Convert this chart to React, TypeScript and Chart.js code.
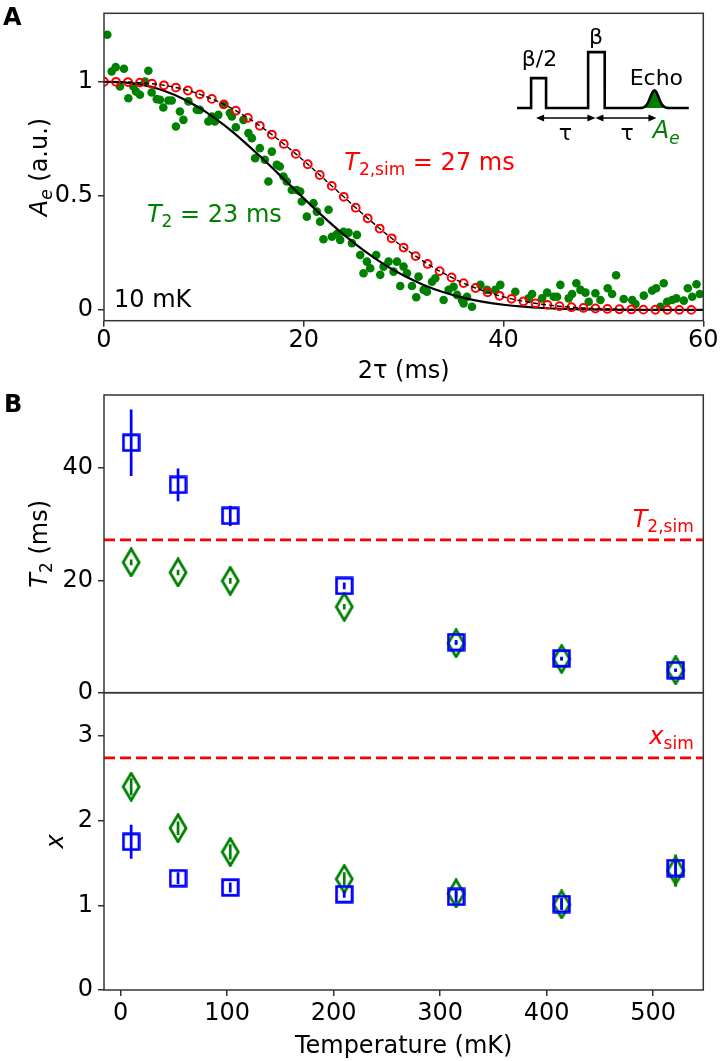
import React, { useEffect, useRef } from 'react';
import { Chart, registerables } from 'chart.js';

Chart.register(...registerables);

const FONT = "'DejaVu Sans', 'Noto Sans', sans-serif";
const GREEN = '#008000';
const RED = '#ff0000';
const BLUE = '#0000ff';
const SPINE = '#333333';

// ---------------- Panel A : echo decay at 10 mK ----------------
const A_X_TICKS = [0, 20, 40, 60];
const A_Y_TICKS = [0, 0.5, 1];

// measured echo amplitude (green dots)
const ECHO_T = [
  0.33, 0.77, 1.17, 2.0, 1.6, 2.44, 2.94, 3.6, 3.2, 4.44, 4.1, 4.77, 5.28, 5.94, 5.6, 6.45, 6.78, 7.6, 7.95, 7.2,
  8.45, 9.29, 9.6, 10.45, 11.1, 10.8, 11.45, 11.96, 12.6, 12.8, 13.2, 13.96, 14.46, 14.8, 15.13, 15.6, 16.1, 16.8,
  16.46, 17.3, 17.6, 17.97, 18.3, 18.8, 19.3, 19.8, 19.64,
  20.31, 20.97, 21.31, 21.64, 22.48, 21.97, 22.82, 23.32, 23.65, 23.98, 24.48, 24.82, 25.32, 25.65, 26.32, 26.65,
  25.98, 27.25, 27.66, 27.99, 28.49, 28.99, 29.33, 29.99, 30.33, 29.66, 30.83, 31.49, 31.26, 32.0, 32.33, 32.84,
  33.17, 34.0, 34.5, 35.0, 35.34, 35.84, 36.0, 36.34, 36.84, 37.68, 38.35, 39.18, 39.68,
  41.18, 42.86, 42.51, 43.86, 44.36, 45.02, 45.36, 45.69, 46.52, 46.86, 47.29, 47.7, 48.2, 48.53, 49.2, 49.7,
  50.43, 50.87, 51.27, 52.03, 52.88, 53.21, 54.04, 54.88, 55.28, 56.04, 55.71, 56.38, 56.88, 57.31, 58.05, 58.45,
  58.89, 59.32, 59.65,
];
const ECHO_A = [
  1.206, 1.045, 1.064, 1.057, 0.979, 0.928, 0.979, 0.943, 0.957, 1.048, 1.001, 0.953, 0.924, 0.887, 0.921, 0.918,
  0.918, 0.87, 0.833, 0.804, 0.914, 0.877, 0.877, 0.826, 0.826, 0.848, 0.855, 0.899, 0.863, 0.848, 0.801, 0.833,
  0.775, 0.753, 0.665, 0.709, 0.658, 0.694, 0.563, 0.636, 0.629, 0.585, 0.563, 0.526, 0.526, 0.475, 0.519,
  0.409, 0.468, 0.431, 0.387, 0.439, 0.31, 0.321, 0.333, 0.307, 0.343, 0.339, 0.293, 0.329, 0.241, 0.212, 0.183,
  0.161, 0.241, 0.154, 0.19, 0.212, 0.168, 0.212, 0.19, 0.161, 0.105, 0.105, 0.146, 0.056, 0.088, 0.08, 0.124,
  0.139, 0.044, 0.088, 0.102, 0.066, 0.044, 0.029, 0.058, 0.014, 0.11, 0.088, 0.088, 0.11,
  0.08, 0.07, 0.051, 0.051, 0.076, 0.058, 0.058, 0.11, 0.051, 0.07, 0.117, 0.088, 0.076, 0.036, 0.073, 0.044,
  0.095, 0.07, 0.152, 0.048, 0.044, 0.026, 0.063, 0.085, 0.095, 0.117, 0.014, 0.036, 0.044, 0.051, 0.041, 0.095,
  0.058, 0.113, 0.07,
];

// fitted curve (black solid line), T2 = 23 ms
const FIT_T = [0, 2, 4, 6, 8, 10, 12, 14, 16, 18, 20, 22, 24, 26, 28, 30, 32, 34, 36, 38, 40, 42, 44, 46, 48, 50, 52, 54, 56, 58, 60];
const FIT_A = [
  1, 0.9972, 0.9851, 0.961, 0.9238, 0.8733, 0.8107, 0.738, 0.658, 0.5739, 0.4891, 0.4071, 0.3304, 0.2613, 0.2012,
  0.1508, 0.1098, 0.0777, 0.0533, 0.0356, 0.023, 0.0144, 0.0087, 0.0051, 0.0029, 0.0016, 0.0008, 0.0004, 0.0002,
  0.0001, 0,
];

// simulation (red open circles + black dashed line), T2,sim = 27 ms
const SIM_T = [
  0, 1.2, 2.4, 3.6, 4.8, 6.0, 7.2, 8.4, 9.6, 10.8, 12.0, 13.2, 14.4, 15.6, 16.8, 18.0, 19.2, 20.4, 21.6, 22.8,
  24.0, 25.2, 26.4, 27.6, 28.8, 30.0, 31.2, 32.4, 33.6, 34.8, 36.0, 37.2, 38.4, 39.6, 40.8, 42.0, 43.2, 44.4, 45.6,
  46.8, 48.0, 49.2, 50.4, 51.6, 52.8, 54.0, 55.2, 56.4, 57.6, 58.8,
];
const SIM_A = [
  1.0, 0.9998, 0.9988, 0.9962, 0.9916, 0.9846, 0.9747, 0.9617, 0.9451, 0.9249, 0.901, 0.8732, 0.8418, 0.8069,
  0.7687, 0.7275, 0.684, 0.6385, 0.5915, 0.5437, 0.4958, 0.4483, 0.4017, 0.3569, 0.314, 0.2736, 0.2361, 0.2016,
  0.1703, 0.1424, 0.1177, 0.0962, 0.0776, 0.062, 0.0488, 0.038, 0.0292, 0.0222, 0.0166, 0.0122, 0.0089, 0.0064,
  0.0045, 0.0032, 0.0022, 0.0015, 0.001, 0.0007, 0.0005, 0.0003,
];

// ---------------- Panel B : temperature dependence ----------------
const B_X_TICKS = [0, 100, 200, 300, 400, 500];
const B1_Y_TICKS = [0, 20, 40];
const B2_Y_TICKS = [0, 1, 2, 3];

const TEMPS = [10, 54, 103, 210, 315, 414, 521];
const T2_BLUE = [44.5, 37.0, 31.5, 19.0, 9.0, 6.1, 4.0];
const T2_BLUE_ERR = [5.9, 2.9, 1.8, 0.6, 0.4, 0.3, 0.3];
const T2_GREEN = [23.2, 21.4, 19.9, 15.3, 8.8, 6.0, 4.0];
const T2_GREEN_ERR = [0.5, 0.5, 0.5, 0.5, 0.3, 0.3, 0.2];
const T2_SIM = 27.2;

const X_BLUE = [1.75, 1.32, 1.21, 1.13, 1.1, 1.015, 1.44];
const X_BLUE_ERR = [0.2, 0.07, 0.06, 0.04, 0.07, 0.07, 0.09];
const X_GREEN = [2.4, 1.91, 1.63, 1.31, 1.14, 1.01, 1.41];
const X_GREEN_ERR = [0.1, 0.08, 0.09, 0.08, 0.05, 0.05, 0.19];
const X_SIM = 2.74;

// ---------------- helpers ----------------
type Part = { t: string; it?: boolean; sub?: boolean };

function drawRich(
  ctx: CanvasRenderingContext2D,
  parts: Part[],
  x: number,
  y: number,
  size: number,
  color: string,
  align: 'left' | 'center' | 'right',
  rotate = false
) {
  const subSize = Math.round(size * 0.7);
  const fontOf = (p: Part) => `${p.it ? 'italic ' : ''}${p.sub ? subSize : size}px ${FONT}`;
  let w = 0;
  for (const p of parts) {
    ctx.font = fontOf(p);
    w += ctx.measureText(p.t).width;
  }
  ctx.save();
  ctx.translate(x, y);
  if (rotate) ctx.rotate(-Math.PI / 2);
  ctx.fillStyle = color;
  ctx.textBaseline = 'alphabetic';
  ctx.textAlign = 'left';
  let cx = align === 'left' ? 0 : align === 'center' ? -w / 2 : -w;
  for (const p of parts) {
    ctx.font = fontOf(p);
    ctx.fillText(p.t, cx, p.sub ? size * 0.22 : 0);
    cx += ctx.measureText(p.t).width;
  }
  ctx.restore();
}

function drawFrame(chart: any) {
  const { ctx, chartArea: a } = chart;
  ctx.save();
  ctx.strokeStyle = SPINE;
  ctx.lineWidth = 1.5;
  ctx.strokeRect(a.left, a.top, a.right - a.left, a.bottom - a.top);
  ctx.restore();
}

function axis(min: number, max: number, ticks: number[], horizontal: boolean, fit: number, show: boolean, pad: number) {
  return {
    type: 'linear',
    min,
    max,
    afterBuildTicks: (s: any) => {
      s.ticks = ticks.map((v) => ({ value: v }));
    },
    afterFit: (s: any) => {
      if (horizontal) {
        s.height = fit;
        s.paddingLeft = 0;
        s.paddingRight = 0;
      } else {
        s.width = fit;
        s.paddingTop = 0;
        s.paddingBottom = 0;
      }
    },
    ticks: {
      display: show,
      autoSkip: false,
      maxRotation: 0,
      padding: pad,
      color: '#000',
      font: { family: FONT, size: 24 },
      callback: (v: any) => String(v),
    },
    grid: { display: show, drawOnChartArea: false, drawTicks: true, tickLength: 6, color: SPINE, lineWidth: 1.5 },
    border: { display: false },
  };
}

function commonOptions(padTop: number, x: any, y: any) {
  return {
    responsive: false,
    animation: false,
    devicePixelRatio: 1,
    events: [],
    layout: { padding: { top: padTop, right: 16.7, left: 0, bottom: 0 } },
    plugins: { legend: { display: false }, tooltip: { enabled: false } },
    scales: { x, y },
  };
}

function makeSquare(): HTMLCanvasElement {
  const c = document.createElement('canvas');
  c.width = 19;
  c.height = 19;
  const g = c.getContext('2d')!;
  g.strokeStyle = BLUE;
  g.lineWidth = 2.8;
  g.strokeRect(1.7, 1.7, 15.6, 15.6);
  return c;
}

function makeDiamond(): HTMLCanvasElement {
  const c = document.createElement('canvas');
  c.width = 20;
  c.height = 30;
  const g = c.getContext('2d')!;
  g.strokeStyle = GREEN;
  g.lineWidth = 2.8;
  g.lineJoin = 'miter';
  g.beginPath();
  g.moveTo(10, 1.5);
  g.lineTo(18, 15);
  g.lineTo(10, 28.5);
  g.lineTo(2, 15);
  g.closePath();
  g.stroke();
  return c;
}

const pts = (xs: number[], ys: number[]) => xs.map((x, i) => ({ x, y: ys[i] }));
const errPts = (xs: number[], ys: number[], es: number[]) =>
  xs.flatMap((x, i) => [
    { x, y: ys[i] - es[i] },
    { x, y: ys[i] + es[i] },
    { x, y: null as any },
  ]);

// ---------------- Chart configs ----------------
function configA() {
  const plugin = {
    id: 'extraA',
    afterDraw(chart: any) {
      const { ctx, chartArea: a } = chart;
      const xs = chart.scales.x;
      const ys = chart.scales.y;
      const X = (v: number) => xs.getPixelForValue(v);
      const Y = (v: number) => ys.getPixelForValue(v);
      drawFrame(chart);

      // panel letter
      ctx.save();
      ctx.font = `bold 24px ${FONT}`;
      ctx.fillStyle = '#000';
      ctx.textAlign = 'left';
      ctx.textBaseline = 'alphabetic';
      ctx.fillText('A', 3, 25);
      ctx.restore();

      // axis titles
      drawRich(ctx, [{ t: 'A', it: true }, { t: 'e', it: true, sub: true }, { t: ' (a.u.)' }], 47, (a.top + a.bottom) / 2, 24, '#000', 'center', true);
      drawRich(ctx, [{ t: '2τ (ms)' }], (a.left + a.right) / 2, a.bottom + 57, 24, '#000', 'center');

      // annotations
      drawRich(ctx, [{ t: 'T', it: true }, { t: '2,sim', sub: true }, { t: ' = 27 ms' }], X(24.05), Y(0.614), 24, RED, 'left');
      drawRich(ctx, [{ t: 'T', it: true }, { t: '2', sub: true }, { t: ' = 23 ms' }], X(4.3), Y(0.387), 24, GREEN, 'left');
      drawRich(ctx, [{ t: '10 mK' }], X(1.0), Y(0.0145), 24, '#000', 'left');

      // inset: pulse sequence schematic
      const base = 0.885;
      const c = 55.11;
      const s = 0.42;
      const h = 0.077;
      ctx.save();
      ctx.beginPath();
      ctx.moveTo(X(c - 1.6), Y(base));
      for (let i = 0; i <= 40; i++) {
        const t = c - 1.6 + i * 0.08;
        ctx.lineTo(X(t), Y(base + h * Math.exp(-((t - c) * (t - c)) / (2 * s * s))));
      }
      ctx.closePath();
      ctx.fillStyle = GREEN;
      ctx.fill();

      ctx.beginPath();
      ctx.moveTo(X(41.35), Y(base));
      ctx.lineTo(X(42.76), Y(base));
      ctx.lineTo(X(42.76), Y(1.016));
      ctx.lineTo(X(44.26), Y(1.016));
      ctx.lineTo(X(44.26), Y(base));
      ctx.lineTo(X(48.47), Y(base));
      ctx.lineTo(X(48.47), Y(1.13));
      ctx.lineTo(X(50.13), Y(1.13));
      ctx.lineTo(X(50.13), Y(base));
      ctx.lineTo(X(c - 1.6), Y(base));
      for (let i = 0; i <= 40; i++) {
        const t = c - 1.6 + i * 0.08;
        ctx.lineTo(X(t), Y(base + h * Math.exp(-((t - c) * (t - c)) / (2 * s * s))));
      }
      ctx.lineTo(X(58.55), Y(base));
      ctx.strokeStyle = '#000';
      ctx.lineWidth = 2.6;
      ctx.lineJoin = 'miter';
      ctx.stroke();

      // double arrows
      const arrow = (x1: number, x2: number, yv: number) => {
        const p1 = X(x1);
        const p2 = X(x2);
        const py = Y(yv);
        ctx.beginPath();
        ctx.moveTo(p1 + 4, py);
        ctx.lineTo(p2 - 4, py);
        ctx.lineWidth = 1.4;
        ctx.stroke();
        ctx.beginPath();
        ctx.moveTo(p1, py);
        ctx.lineTo(p1 + 8, py - 3.5);
        ctx.lineTo(p1 + 8, py + 3.5);
        ctx.closePath();
        ctx.moveTo(p2, py);
        ctx.lineTo(p2 - 8, py - 3.5);
        ctx.lineTo(p2 - 8, py + 3.5);
        ctx.closePath();
        ctx.fillStyle = '#000';
        ctx.fill();
      };
      arrow(43.26, 49.2, 0.841);
      arrow(49.2, 55.31, 0.841);
      ctx.restore();

      drawRich(ctx, [{ t: 'β/2' }], X(43.6), Y(1.067), 22, '#000', 'center');
      drawRich(ctx, [{ t: 'β' }], X(49.27), Y(1.167), 22, '#000', 'center');
      drawRich(ctx, [{ t: 'Echo' }], X(55.3), Y(0.987), 22, '#000', 'center');
      drawRich(ctx, [{ t: 'τ' }], X(46.2), Y(0.746), 22, '#000', 'center');
      drawRich(ctx, [{ t: 'τ' }], X(52.37), Y(0.746), 22, '#000', 'center');
      drawRich(ctx, [{ t: 'A', it: true }, { t: 'e', it: true, sub: true }], X(54.95), Y(0.7526), 24, GREEN, 'left');
    },
  };

  return {
    type: 'line',
    data: {
      datasets: [
        {
          data: pts(SIM_T, SIM_A),
          borderColor: '#000',
          borderWidth: 1.4,
          borderDash: [5, 3],
          pointRadius: 0,
          cubicInterpolationMode: 'monotone',
          order: 0,
        },
        {
          data: pts(SIM_T, SIM_A),
          showLine: false,
          pointRadius: 3.9,
          pointBorderColor: RED,
          pointBackgroundColor: 'rgba(0,0,0,0)',
          pointBorderWidth: 2,
          order: 1,
        },
        {
          data: pts(FIT_T, FIT_A),
          borderColor: '#000',
          borderWidth: 2.2,
          pointRadius: 0,
          cubicInterpolationMode: 'monotone',
          order: 2,
        },
        {
          data: pts(ECHO_T, ECHO_A),
          showLine: false,
          pointRadius: 4.3,
          pointBackgroundColor: GREEN,
          pointBorderWidth: 0,
          pointBorderColor: GREEN,
          order: 3,
        },
      ],
    },
    options: commonOptions(13.3, axis(0, 60, A_X_TICKS, true, 79.3, true, 0), axis(-0.047, 1.3, A_Y_TICKS, false, 104, true, 5)),
    plugins: [plugin],
  };
}

function bDatasets(blue: number[], blueErr: number[], green: number[], greenErr: number[], sim: number) {
  const square = makeSquare();
  const diamond = makeDiamond();
  return [
    {
      data: errPts(TEMPS, blue, blueErr),
      borderColor: BLUE,
      borderWidth: 2.7,
      pointRadius: 0,
      spanGaps: false,
      order: 0,
    },
    {
      data: pts(TEMPS, blue),
      showLine: false,
      pointStyle: square,
      pointRadius: 6,
      order: 1,
    },
    {
      data: errPts(TEMPS, green, greenErr),
      borderColor: GREEN,
      borderWidth: 2.7,
      pointRadius: 0,
      spanGaps: false,
      order: 2,
    },
    {
      data: pts(TEMPS, green),
      showLine: false,
      pointStyle: diamond,
      pointRadius: 6,
      order: 3,
    },
    {
      data: [
        { x: -15.5, y: sim },
        { x: 547, y: sim },
      ],
      borderColor: RED,
      borderWidth: 2.7,
      borderDash: [11, 5],
      pointRadius: 0,
      order: 4,
    },
  ];
}

function configB1() {
  const plugin = {
    id: 'extraB1',
    afterDraw(chart: any) {
      const { ctx, chartArea: a } = chart;
      const X = (v: number) => chart.scales.x.getPixelForValue(v);
      const Y = (v: number) => chart.scales.y.getPixelForValue(v);
      drawFrame(chart);
      ctx.save();
      ctx.font = `bold 24px ${FONT}`;
      ctx.fillStyle = '#000';
      ctx.textAlign = 'left';
      ctx.textBaseline = 'alphabetic';
      ctx.fillText('B', 4, 31.7);
      ctx.restore();
      drawRich(ctx, [{ t: 'T', it: true }, { t: '2', sub: true }, { t: ' (ms)' }], 47, (a.top + a.bottom) / 2, 24, '#000', 'center', true);
      drawRich(ctx, [{ t: 'T', it: true }, { t: '2,sim', sub: true }], X(538), Y(29.55), 24, RED, 'right');
    },
  };
  return {
    type: 'line',
    data: { datasets: bDatasets(T2_BLUE, T2_BLUE_ERR, T2_GREEN, T2_GREEN_ERR, T2_SIM) },
    options: commonOptions(15, axis(-15.5, 547, B_X_TICKS, true, 17.3, false, 0), axis(0, 53, B1_Y_TICKS, false, 104, true, 5)),
    plugins: [plugin],
  };
}

function configB2() {
  const plugin = {
    id: 'extraB2',
    afterDraw(chart: any) {
      const { ctx, chartArea: a } = chart;
      const X = (v: number) => chart.scales.x.getPixelForValue(v);
      const Y = (v: number) => chart.scales.y.getPixelForValue(v);
      drawFrame(chart);
      drawRich(ctx, [{ t: 'x', it: true }], 63, (a.top + a.bottom) / 2, 24, '#000', 'center', true);
      drawRich(ctx, [{ t: 'Temperature (mK)' }], (a.left + a.right) / 2, a.bottom + 62.5, 24, '#000', 'center');
      drawRich(ctx, [{ t: 'x', it: true }, { t: 'sim', sub: true }], X(538), Y(2.91), 24, RED, 'right');
    },
  };
  return {
    type: 'line',
    data: { datasets: bDatasets(X_BLUE, X_BLUE_ERR, X_GREEN, X_GREEN_ERR, X_SIM) },
    options: commonOptions(12.7, axis(-15.5, 547, B_X_TICKS, true, 71, true, 3), axis(0, 3.51, B2_Y_TICKS, false, 104, true, 5)),
    plugins: [plugin],
  };
}

function ChartCanvas({ top, height, make }: { top: number; height: number; make: () => any }) {
  const ref = useRef<HTMLCanvasElement>(null);
  useEffect(() => {
    const chart = new Chart(ref.current as HTMLCanvasElement, make());
    return () => chart.destroy();
  }, []);
  return (
    <canvas
      ref={ref}
      width={720}
      height={height}
      style={{ position: 'absolute', left: 0, top, width: 720, height, display: 'block' }}
    />
  );
}

export default function App() {
  return (
    <div style={{ position: 'absolute', left: 0, top: 0, width: 720, height: 1061, background: '#fff', overflow: 'hidden' }}>
      <ChartCanvas top={0} height={400} make={configA} />
      <ChartCanvas top={380} height={330} make={configB1} />
      <ChartCanvas top={680} height={381} make={configB2} />
    </div>
  );
}
